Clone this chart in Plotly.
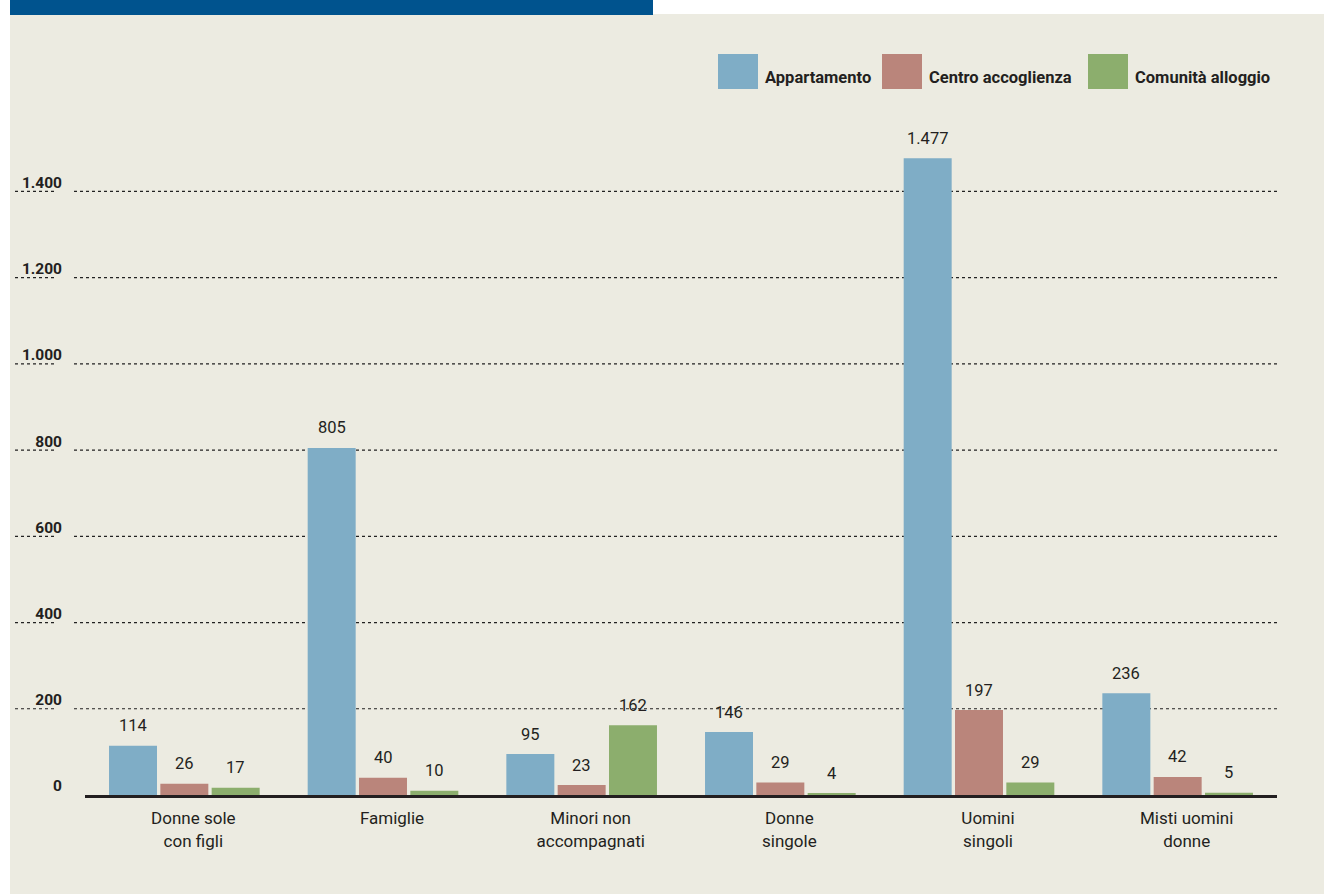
import plotly.graph_objects as go

categories = ["Donne sole<br>con figli", "Famiglie", "Minori non<br>accompagnati",
              "Donne<br>singole", "Uomini<br>singoli", "Misti uomini<br>donne"]
series_names = ["Appartamento", "Centro accoglienza", "Comunità alloggio"]
appartamento = [114, 805, 95, 146, 1477, 236]
centro = [26, 40, 23, 29, 197, 42]
comunita = [17, 10, 162, 4, 29, 5]
y_ticks = [0, 200, 400, 600, 800, 1000, 1200, 1400]
colors = ["#7FADC6", "#BA857B", "#8CAE6D"]

FONT = "Roboto, Liberation Sans, sans-serif"
TXT = "#231F20"
series = [appartamento, centro, comunita]

BARGAP = 0.225
BARGROUPGAP = 0.065

# plot-area pixel geometry
L, R, T, B = 85, 47, 100, 99
W, H = 1324, 894
PW = W - L - R
PH = H - T - B

def px(x):
    return (x - L) / PW

def py(y):
    return (H - B - y) / PH

fig = go.Figure()
xs = list(range(len(categories)))
for name, vals, col in zip(series_names, series, colors):
    fig.add_trace(go.Bar(x=xs, y=vals, name=name, marker=dict(color=col, line=dict(width=0)),
                         showlegend=False, hoverinfo="y"))

def fmt(v):
    return f"{v:,}".replace(",", ".")

slot = (1 - BARGAP) / 3
annotations = []
for j, vals in enumerate(series):
    for i, v in enumerate(vals):
        annotations.append(dict(x=i + (j - 1) * slot, y=v, xref="x", yref="y", text=fmt(v),
                                showarrow=False, yanchor="middle", yshift=20,
                                font=dict(family=FONT, size=16.5, color=TXT)))

shapes = []
# panel background and top band
shapes.append(dict(type="rect", xref="paper", yref="paper", x0=px(10), x1=px(1324), y0=py(894), y1=py(14),
                   fillcolor="#ECEBE1", line=dict(width=0), layer="below"))
shapes.append(dict(type="rect", xref="paper", yref="paper", x0=px(10), x1=px(653), y0=py(15), y1=py(0),
                   fillcolor="#00538E", line=dict(width=0), layer="below"))
# dotted gridlines
for t in y_ticks[1:]:
    for a, b in [(15, 57), (74, 1280)]:
        shapes.append(dict(type="line", xref="paper", yref="y", x0=px(a), x1=px(b), y0=t, y1=t,
                           line=dict(color="#222222", width=1.2, dash="dot"), layer="below"))

# manual legend
leg_sq = [718, 882, 1088]
for name, col, x0 in zip(series_names, colors, leg_sq):
    shapes.append(dict(type="rect", xref="paper", yref="paper", x0=px(x0), x1=px(x0 + 40),
                       y0=py(89), y1=py(54), fillcolor=col, line=dict(width=0)))
    annotations.append(dict(x=px(x0 + 45), y=py(77), xref="paper", yref="paper", text=f"<b>{name}</b>",
                            showarrow=False, xanchor="left", yanchor="middle",
                            font=dict(family=FONT, size=16.5, color=TXT)))

fig.update_layout(
    width=W, height=H,
    margin=dict(l=L, r=R, t=T, b=B, pad=0),
    paper_bgcolor="white", plot_bgcolor="rgba(0,0,0,0)",
    barmode="group", bargap=BARGAP, bargroupgap=BARGROUPGAP,
    separators=",.",
    font=dict(family=FONT, size=17, color=TXT),
    shapes=shapes, annotations=annotations,
    xaxis=dict(tickmode="array", tickvals=xs, ticktext=categories, range=[-0.5, len(categories) - 0.5],
               showgrid=False, zeroline=False, showline=True, linecolor=TXT, linewidth=3,
               ticks="", ticklabelstandoff=6, ticklabelshift=9,
               tickfont=dict(family=FONT, size=17, color=TXT), fixedrange=True),
    yaxis=dict(range=[0, 1612], tickmode="array", tickvals=y_ticks,
               ticktext=[f"<b>{fmt(t)}</b>" for t in y_ticks],
               showgrid=False, zeroline=False, showline=False, ticks="",
               ticklabelshift=-9, ticklabelstandoff=22,
               tickfont=dict(family=FONT, size=15.5, color=TXT), fixedrange=True),
)

fig.write_html("out.html", config={"displayModeBar": False},
               post_script="document.body.style.margin='0';document.body.style.overflow='hidden';")
